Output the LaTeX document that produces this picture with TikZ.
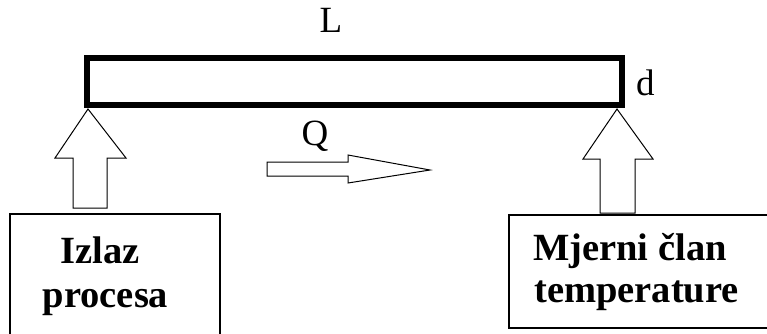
\documentclass[tikz,border=0pt]{standalone}
\usepackage{fontspec}
\setmainfont{Liberation Serif}
\begin{document}
\begin{tikzpicture}[x=1pt,y=-1pt,
  barstyle/.style={draw, line width=5.5pt, inner sep=0pt, minimum width=535pt, minimum height=47pt},
  blockarrow/.style={draw, line width=1pt, fill=white, line join=miter},
  boxstyle/.style={draw, line width=1.4pt},
  lbl/.style={font=\fontsize{37}{42}\selectfont, inner sep=0pt},
  boxtext/.style={font=\fontsize{38.5}{44}\selectfont\bfseries, inner sep=0pt}]
\useasboundingbox (0,0) rectangle (767,333);
\clip (0,0) rectangle (767,333);
% bar
\node[barstyle] (bar) at (354.5,81.5) {};
\node[lbl, anchor=base] (L) at (331,32) {L};
\node[lbl, anchor=base west] (d) at (636,95) {d};
% boxes
\draw[boxstyle] (10,214) rectangle (220,350);
\coordinate (boxL) at (115,214);
\draw[boxstyle] (509,215) rectangle (780,328);
\coordinate (boxR) at (617,215);
\node[boxtext, anchor=base] (t1) at (100,263) {Izlaz};
\node[boxtext, anchor=base] (t2) at (105.5,307) {procesa};
\node[boxtext, anchor=base west] (t3) at (533,260) {Mjerni član};
\node[boxtext, anchor=base west] (t4) at (534,302) {temperature};
% up arrows
\draw[blockarrow] (88,109) -- (126,158) -- (107,158) -- (107,208) -- (73,208) -- (73,158) -- (55,158) -- cycle;
\draw[blockarrow] (617,109) -- (653,159) -- (635,159) -- (635,213) -- (600,213) -- (600,159) -- (583,159) -- cycle;
% Q arrow
\node[lbl, anchor=base] (Q) at (315,145) {Q};
\draw[blockarrow] (267,162) -- (348,162) -- (348,155) -- (430,170) -- (348,183) -- (348,176) -- (267,176) -- cycle;
\end{tikzpicture}
\end{document}
